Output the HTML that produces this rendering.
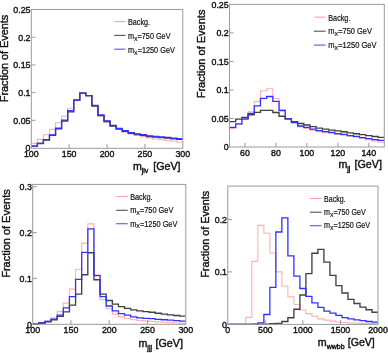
<!DOCTYPE html>
<html><head><meta charset="utf-8"><title>Histograms</title><style>
html,body{margin:0;padding:0;background:#fff;}
body{width:388px;height:353px;overflow:hidden;}
svg{display:block;will-change:transform;}
text{font-family:"Liberation Sans",sans-serif;fill:#111;stroke:#111;stroke-width:0.4px;}
.tk{font-size:9.40px;}
.lg{font-size:8.60px;stroke-width:0.2px;}
.ls{font-size:6.19px;}
.yt{font-size:11.00px;}
.xt{font-size:10.60px;}
.xs{font-size:7.00px;}
</style></head>
<body><svg width="388" height="353" viewBox="0 0 388 353">
<rect width="388" height="353" fill="#fff"/>
<g><clipPath id="cp1"><rect x="31.30" y="7.50" width="151.50" height="141.80"/></clipPath><g clip-path="url(#cp1)" fill="none" stroke-linejoin="miter"><path d="M31.30 143.41 L37.36 143.41 L37.36 139.42 L43.42 139.42 L43.42 134.71 L49.48 134.71 L49.48 129.18 L55.54 129.18 L55.54 122.81 L61.60 122.81 L61.60 116.22 L67.66 116.22 L67.66 108.25 L73.72 108.25 L73.72 99.28 L79.78 99.28 L79.78 92.64 L85.84 92.64 L85.84 95.96 L91.90 95.96 L91.90 105.93 L97.96 105.93 L97.96 115.89 L104.02 115.89 L104.02 122.20 L110.08 122.20 L110.08 126.41 L116.14 126.41 L116.14 129.40 L122.20 129.40 L122.20 132.22 L128.26 132.22 L128.26 134.05 L134.32 134.05 L134.32 135.27 L140.38 135.27 L140.38 136.65 L146.44 136.65 L146.44 138.04 L152.50 138.04 L152.50 139.03 L158.56 139.03 L158.56 139.70 L164.62 139.70 L164.62 140.53 L170.68 140.53 L170.68 141.30 L176.74 141.30 L176.74 142.19 L182.80 142.19" stroke="#ffb0b0" stroke-width="1.1"/><path d="M31.30 146.17 L37.36 146.17 L37.36 143.54 L43.42 143.54 L43.42 139.95 L49.48 139.95 L49.48 135.33 L55.54 135.33 L55.54 128.83 L61.60 128.83 L61.60 120.99 L67.66 120.99 L67.66 111.86 L73.72 111.86 L73.72 100.11 L79.78 100.11 L79.78 93.19 L85.84 93.19 L85.84 95.63 L91.90 95.63 L91.90 106.04 L97.96 106.04 L97.96 115.61 L104.02 115.61 L104.02 121.54 L110.08 121.54 L110.08 125.97 L116.14 125.97 L116.14 129.07 L122.20 129.07 L122.20 131.39 L128.26 131.39 L128.26 133.27 L134.32 133.27 L134.32 134.49 L140.38 134.49 L140.38 135.38 L146.44 135.38 L146.44 136.49 L152.50 136.49 L152.50 137.04 L158.56 137.04 L158.56 137.59 L164.62 137.59 L164.62 138.15 L170.68 138.15 L170.68 138.70 L176.74 138.70 L176.74 139.36 L182.80 139.36" stroke="#404040" stroke-width="1.35"/><path d="M31.30 146.12 L37.36 146.12 L37.36 143.41 L43.42 143.41 L43.42 139.70 L49.48 139.70 L49.48 134.94 L55.54 134.94 L55.54 128.24 L61.60 128.24 L61.60 120.15 L67.66 120.15 L67.66 110.74 L73.72 110.74 L73.72 100.11 L79.78 100.11 L79.78 93.19 L85.84 93.19 L85.84 95.63 L91.90 95.63 L91.90 105.37 L97.96 105.37 L97.96 114.95 L104.02 114.95 L104.02 120.87 L110.08 120.87 L110.08 125.30 L116.14 125.30 L116.14 128.40 L122.20 128.40 L122.20 130.73 L128.26 130.73 L128.26 132.61 L134.32 132.61 L134.32 133.83 L140.38 133.83 L140.38 134.71 L146.44 134.71 L146.44 135.82 L152.50 135.82 L152.50 136.37 L158.56 136.37 L158.56 136.93 L164.62 136.93 L164.62 137.48 L170.68 137.48 L170.68 138.04 L176.74 138.04 L176.74 138.70 L182.80 138.70" stroke="#3030ff" stroke-width="1.3"/></g><rect x="31.30" y="9.50" width="151.50" height="138.80" fill="none" stroke="#9a9a9a" stroke-width="1"/><text x="31.30" y="157.10" text-anchor="middle" class="tk" textLength="14.74" lengthAdjust="spacingAndGlyphs">100</text><line x1="69.17" y1="148.30" x2="69.17" y2="144.10" stroke="#9a9a9a" stroke-width="1"/><text x="69.17" y="157.10" text-anchor="middle" class="tk" textLength="14.74" lengthAdjust="spacingAndGlyphs">150</text><line x1="107.05" y1="148.30" x2="107.05" y2="144.10" stroke="#9a9a9a" stroke-width="1"/><text x="107.05" y="157.10" text-anchor="middle" class="tk" textLength="14.74" lengthAdjust="spacingAndGlyphs">200</text><line x1="144.93" y1="148.30" x2="144.93" y2="144.10" stroke="#9a9a9a" stroke-width="1"/><text x="144.93" y="157.10" text-anchor="middle" class="tk" textLength="14.74" lengthAdjust="spacingAndGlyphs">250</text><text x="182.80" y="157.10" text-anchor="middle" class="tk" textLength="14.74" lengthAdjust="spacingAndGlyphs">300</text><text x="30.50" y="151.40" text-anchor="end" class="tk" textLength="4.91" lengthAdjust="spacingAndGlyphs">0</text><line x1="31.30" y1="120.32" x2="35.50" y2="120.32" stroke="#9a9a9a" stroke-width="1"/><text x="30.50" y="123.72" text-anchor="end" class="tk" textLength="17.19" lengthAdjust="spacingAndGlyphs">0.05</text><line x1="31.30" y1="92.64" x2="35.50" y2="92.64" stroke="#9a9a9a" stroke-width="1"/><text x="30.50" y="96.04" text-anchor="end" class="tk" textLength="12.28" lengthAdjust="spacingAndGlyphs">0.1</text><line x1="31.30" y1="64.96" x2="35.50" y2="64.96" stroke="#9a9a9a" stroke-width="1"/><text x="30.50" y="68.36" text-anchor="end" class="tk" textLength="17.19" lengthAdjust="spacingAndGlyphs">0.15</text><line x1="31.30" y1="37.28" x2="35.50" y2="37.28" stroke="#9a9a9a" stroke-width="1"/><text x="30.50" y="40.68" text-anchor="end" class="tk" textLength="12.28" lengthAdjust="spacingAndGlyphs">0.2</text><text x="30.50" y="13.00" text-anchor="end" class="tk" textLength="17.19" lengthAdjust="spacingAndGlyphs">0.25</text><line x1="114.20" y1="21.70" x2="125.50" y2="21.70" stroke="#ff8c8c" stroke-width="0.90"/><line x1="114.20" y1="35.40" x2="125.50" y2="35.40" stroke="#505050" stroke-width="1.10"/><line x1="114.20" y1="49.20" x2="125.50" y2="49.20" stroke="#6464ff" stroke-width="1.20"/><text x="128.00" y="25.40" class="lg" textLength="22.00" lengthAdjust="spacingAndGlyphs">Backg.</text><text x="128.00" y="38.90" class="lg" textLength="42.50" lengthAdjust="spacingAndGlyphs">m<tspan class="ls" dy="1.8">X</tspan><tspan dy="-1.8">=750 GeV</tspan></text><text x="128.00" y="52.70" class="lg" textLength="46.90" lengthAdjust="spacingAndGlyphs">m<tspan class="ls" dy="1.8">X</tspan><tspan dy="-1.8">=1250 GeV</tspan></text><text transform="translate(8.20 102.20) rotate(-90)" class="yt" textLength="87.50" lengthAdjust="spacingAndGlyphs">Fraction of Events</text><text x="132.90" y="170.20" class="xt">m<tspan class="xs" dy="3.0">jlv</tspan></text><text x="153.20" y="170.20" class="xt" textLength="27.40" lengthAdjust="spacingAndGlyphs">[GeV]</text></g>
<g><clipPath id="cp2"><rect x="229.50" y="2.40" width="154.80" height="145.60"/></clipPath><g clip-path="url(#cp2)" fill="none" stroke-linejoin="miter"><path d="M229.50 128.40 L235.69 128.40 L235.69 124.53 L241.88 124.53 L241.88 118.48 L248.08 118.48 L248.08 111.75 L254.27 111.75 L254.27 101.37 L260.46 101.37 L260.46 90.82 L266.65 90.82 L266.65 88.71 L272.84 88.71 L272.84 98.52 L279.04 98.52 L279.04 109.92 L285.23 109.92 L285.23 119.28 L291.42 119.28 L291.42 123.50 L297.61 123.50 L297.61 126.92 L303.80 126.92 L303.80 128.40 L310.00 128.40 L310.00 130.12 L316.19 130.12 L316.19 131.60 L322.38 131.60 L322.38 132.63 L328.57 132.63 L328.57 133.42 L334.76 133.42 L334.76 134.45 L340.96 134.45 L340.96 135.31 L347.15 135.31 L347.15 136.28 L353.34 136.28 L353.34 137.19 L359.53 137.19 L359.53 138.44 L365.72 138.44 L365.72 139.70 L371.92 139.70 L371.92 140.90 L378.11 140.90 L378.11 142.21 L384.30 142.21" stroke="#ffb0b0" stroke-width="1.1"/><path d="M229.50 121.62 L235.69 121.62 L235.69 119.11 L241.88 119.11 L241.88 117.51 L248.08 117.51 L248.08 114.72 L254.27 114.72 L254.27 112.38 L260.46 112.38 L260.46 110.32 L266.65 110.32 L266.65 110.32 L272.84 110.32 L272.84 112.49 L279.04 112.49 L279.04 116.20 L285.23 116.20 L285.23 118.88 L291.42 118.88 L291.42 121.62 L297.61 121.62 L297.61 123.50 L303.80 123.50 L303.80 124.98 L310.00 124.98 L310.00 126.58 L316.19 126.58 L316.19 128.18 L322.38 128.18 L322.38 129.09 L328.57 129.09 L328.57 130.12 L334.76 130.12 L334.76 130.86 L340.96 130.86 L340.96 131.77 L347.15 131.77 L347.15 132.80 L353.34 132.80 L353.34 133.71 L359.53 133.71 L359.53 134.68 L365.72 134.68 L365.72 135.59 L371.92 135.59 L371.92 136.50 L378.11 136.50 L378.11 137.42 L384.30 137.42" stroke="#404040" stroke-width="1.35"/><path d="M229.50 127.38 L235.69 127.38 L235.69 123.78 L241.88 123.78 L241.88 119.11 L248.08 119.11 L248.08 113.52 L254.27 113.52 L254.27 105.82 L260.46 105.82 L260.46 98.40 L266.65 98.40 L266.65 96.52 L272.84 96.52 L272.84 101.37 L279.04 101.37 L279.04 110.49 L285.23 110.49 L285.23 118.88 L291.42 118.88 L291.42 122.30 L297.61 122.30 L297.61 126.01 L303.80 126.01 L303.80 127.44 L310.00 127.44 L310.00 129.09 L316.19 129.09 L316.19 130.57 L322.38 130.57 L322.38 131.60 L328.57 131.60 L328.57 132.40 L334.76 132.40 L334.76 133.60 L340.96 133.60 L340.96 134.45 L347.15 134.45 L347.15 135.59 L353.34 135.59 L353.34 136.28 L359.53 136.28 L359.53 137.53 L365.72 137.53 L365.72 138.67 L371.92 138.67 L371.92 139.70 L378.11 139.70 L378.11 140.33 L384.30 140.33" stroke="#3030ff" stroke-width="1.3"/></g><rect x="229.50" y="4.40" width="154.80" height="142.60" fill="none" stroke="#9a9a9a" stroke-width="1"/><line x1="244.98" y1="147.00" x2="244.98" y2="142.80" stroke="#9a9a9a" stroke-width="1"/><text x="244.98" y="155.90" text-anchor="middle" class="tk" textLength="9.83" lengthAdjust="spacingAndGlyphs">60</text><line x1="275.94" y1="147.00" x2="275.94" y2="142.80" stroke="#9a9a9a" stroke-width="1"/><text x="275.94" y="155.90" text-anchor="middle" class="tk" textLength="9.83" lengthAdjust="spacingAndGlyphs">80</text><line x1="306.90" y1="147.00" x2="306.90" y2="142.80" stroke="#9a9a9a" stroke-width="1"/><text x="306.90" y="155.90" text-anchor="middle" class="tk" textLength="14.74" lengthAdjust="spacingAndGlyphs">100</text><line x1="337.86" y1="147.00" x2="337.86" y2="142.80" stroke="#9a9a9a" stroke-width="1"/><text x="337.86" y="155.90" text-anchor="middle" class="tk" textLength="14.74" lengthAdjust="spacingAndGlyphs">120</text><line x1="368.82" y1="147.00" x2="368.82" y2="142.80" stroke="#9a9a9a" stroke-width="1"/><text x="368.82" y="155.90" text-anchor="middle" class="tk" textLength="14.74" lengthAdjust="spacingAndGlyphs">140</text><text x="228.70" y="150.40" text-anchor="end" class="tk" textLength="4.91" lengthAdjust="spacingAndGlyphs">0</text><line x1="229.50" y1="118.48" x2="233.70" y2="118.48" stroke="#9a9a9a" stroke-width="1"/><text x="228.70" y="121.88" text-anchor="end" class="tk" textLength="17.19" lengthAdjust="spacingAndGlyphs">0.05</text><line x1="229.50" y1="89.96" x2="233.70" y2="89.96" stroke="#9a9a9a" stroke-width="1"/><text x="228.70" y="93.36" text-anchor="end" class="tk" textLength="12.28" lengthAdjust="spacingAndGlyphs">0.1</text><line x1="229.50" y1="61.44" x2="233.70" y2="61.44" stroke="#9a9a9a" stroke-width="1"/><text x="228.70" y="64.84" text-anchor="end" class="tk" textLength="17.19" lengthAdjust="spacingAndGlyphs">0.15</text><line x1="229.50" y1="32.92" x2="233.70" y2="32.92" stroke="#9a9a9a" stroke-width="1"/><text x="228.70" y="36.32" text-anchor="end" class="tk" textLength="12.28" lengthAdjust="spacingAndGlyphs">0.2</text><text x="228.70" y="7.80" text-anchor="end" class="tk" textLength="17.19" lengthAdjust="spacingAndGlyphs">0.25</text><line x1="314.00" y1="17.10" x2="325.60" y2="17.10" stroke="#ff8c8c" stroke-width="0.90"/><line x1="314.00" y1="31.20" x2="325.60" y2="31.20" stroke="#505050" stroke-width="1.10"/><line x1="314.00" y1="45.10" x2="325.60" y2="45.10" stroke="#6464ff" stroke-width="1.20"/><text x="328.30" y="20.60" class="lg" textLength="22.10" lengthAdjust="spacingAndGlyphs">Backg.</text><text x="328.30" y="34.30" class="lg" textLength="43.70" lengthAdjust="spacingAndGlyphs">m<tspan class="ls" dy="1.8">X</tspan><tspan dy="-1.8">=750 GeV</tspan></text><text x="328.30" y="48.00" class="lg" textLength="48.30" lengthAdjust="spacingAndGlyphs">m<tspan class="ls" dy="1.8">X</tspan><tspan dy="-1.8">=1250 GeV</tspan></text><text transform="translate(205.30 98.30) rotate(-90)" class="yt" textLength="88.70" lengthAdjust="spacingAndGlyphs">Fraction of Events</text><text x="338.40" y="168.00" class="xt">m<tspan class="xs" dy="3.0">jj</tspan></text><text x="354.40" y="168.00" class="xt" textLength="27.50" lengthAdjust="spacingAndGlyphs">[GeV]</text></g>
<g><clipPath id="cp3"><rect x="32.70" y="182.40" width="153.10" height="142.90"/></clipPath><g clip-path="url(#cp3)" fill="none" stroke-linejoin="miter"><path d="M32.70 323.74 L38.82 323.74 L38.82 322.37 L44.95 322.37 L44.95 320.76 L51.07 320.76 L51.07 317.79 L57.20 317.79 L57.20 311.65 L63.32 311.65 L63.32 303.13 L69.44 303.13 L69.44 289.16 L75.57 289.16 L75.57 269.24 L81.69 269.24 L81.69 243.13 L87.82 243.13 L87.82 223.90 L93.94 223.90 L93.94 276.11 L100.06 276.11 L100.06 299.47 L106.19 299.47 L106.19 308.81 L112.31 308.81 L112.31 314.12 L118.44 314.12 L118.44 316.87 L124.56 316.87 L124.56 318.47 L130.68 318.47 L130.68 319.76 L136.81 319.76 L136.81 320.54 L142.93 320.54 L142.93 320.90 L149.06 320.90 L149.06 321.45 L155.18 321.45 L155.18 321.91 L161.30 321.91 L161.30 322.28 L167.43 322.28 L167.43 322.64 L173.55 322.64 L173.55 323.01 L179.68 323.01 L179.68 323.38 L185.80 323.38" stroke="#ffb0b0" stroke-width="1.1"/><path d="M32.70 324.20 L38.82 324.20 L38.82 323.28 L44.95 323.28 L44.95 321.91 L51.07 321.91 L51.07 319.76 L57.20 319.76 L57.20 316.41 L63.32 316.41 L63.32 311.83 L69.44 311.83 L69.44 305.10 L75.57 305.10 L75.57 294.16 L81.69 294.16 L81.69 274.74 L87.82 274.74 L87.82 252.75 L93.94 252.75 L93.94 279.77 L100.06 279.77 L100.06 294.16 L106.19 294.16 L106.19 300.48 L112.31 300.48 L112.31 304.05 L118.44 304.05 L118.44 306.61 L124.56 306.61 L124.56 308.31 L130.68 308.31 L130.68 309.91 L136.81 309.91 L136.81 310.92 L142.93 310.92 L142.93 311.60 L149.06 311.60 L149.06 312.29 L155.18 312.29 L155.18 313.21 L161.30 313.21 L161.30 314.12 L167.43 314.12 L167.43 314.86 L173.55 314.86 L173.55 315.50 L179.68 315.50 L179.68 316.19 L185.80 316.19" stroke="#404040" stroke-width="1.35"/><path d="M32.70 324.20 L38.82 324.20 L38.82 323.01 L44.95 323.01 L44.95 321.45 L51.07 321.45 L51.07 319.07 L57.20 319.07 L57.20 315.18 L63.32 315.18 L63.32 307.94 L69.44 307.94 L69.44 296.72 L75.57 296.72 L75.57 279.41 L81.69 279.41 L81.69 252.29 L87.82 252.29 L87.82 228.80 L93.94 228.80 L93.94 275.38 L100.06 275.38 L100.06 296.72 L106.19 296.72 L106.19 306.02 L112.31 306.02 L112.31 310.92 L118.44 310.92 L118.44 313.57 L124.56 313.57 L124.56 315.18 L130.68 315.18 L130.68 316.78 L136.81 316.78 L136.81 317.79 L142.93 317.79 L142.93 318.34 L149.06 318.34 L149.06 318.70 L155.18 318.70 L155.18 319.35 L161.30 319.35 L161.30 319.76 L167.43 319.76 L167.43 320.17 L173.55 320.17 L173.55 320.67 L179.68 320.67 L179.68 321.18 L185.80 321.18" stroke="#3030ff" stroke-width="1.3"/></g><rect x="32.70" y="184.40" width="153.10" height="139.90" fill="none" stroke="#9a9a9a" stroke-width="1"/><text x="32.70" y="333.20" text-anchor="middle" class="tk" textLength="14.74" lengthAdjust="spacingAndGlyphs">100</text><line x1="70.98" y1="324.30" x2="70.98" y2="320.10" stroke="#9a9a9a" stroke-width="1"/><text x="70.98" y="333.20" text-anchor="middle" class="tk" textLength="14.74" lengthAdjust="spacingAndGlyphs">150</text><line x1="109.25" y1="324.30" x2="109.25" y2="320.10" stroke="#9a9a9a" stroke-width="1"/><text x="109.25" y="333.20" text-anchor="middle" class="tk" textLength="14.74" lengthAdjust="spacingAndGlyphs">200</text><line x1="147.53" y1="324.30" x2="147.53" y2="320.10" stroke="#9a9a9a" stroke-width="1"/><text x="147.53" y="333.20" text-anchor="middle" class="tk" textLength="14.74" lengthAdjust="spacingAndGlyphs">250</text><text x="185.80" y="333.20" text-anchor="middle" class="tk" textLength="14.74" lengthAdjust="spacingAndGlyphs">300</text><text x="31.90" y="327.60" text-anchor="end" class="tk" textLength="4.91" lengthAdjust="spacingAndGlyphs">0</text><line x1="32.70" y1="278.40" x2="36.90" y2="278.40" stroke="#9a9a9a" stroke-width="1"/><text x="31.90" y="281.80" text-anchor="end" class="tk" textLength="12.28" lengthAdjust="spacingAndGlyphs">0.1</text><line x1="32.70" y1="232.60" x2="36.90" y2="232.60" stroke="#9a9a9a" stroke-width="1"/><text x="31.90" y="236.00" text-anchor="end" class="tk" textLength="12.28" lengthAdjust="spacingAndGlyphs">0.2</text><line x1="32.70" y1="186.80" x2="36.90" y2="186.80" stroke="#9a9a9a" stroke-width="1"/><text x="31.90" y="190.20" text-anchor="end" class="tk" textLength="12.28" lengthAdjust="spacingAndGlyphs">0.3</text><line x1="116.20" y1="196.60" x2="127.70" y2="196.60" stroke="#ff8c8c" stroke-width="0.90"/><line x1="116.20" y1="210.30" x2="127.70" y2="210.30" stroke="#505050" stroke-width="1.10"/><line x1="116.20" y1="223.70" x2="127.70" y2="223.70" stroke="#6464ff" stroke-width="1.20"/><text x="130.20" y="199.70" class="lg" textLength="22.30" lengthAdjust="spacingAndGlyphs">Backg.</text><text x="130.20" y="213.20" class="lg" textLength="43.20" lengthAdjust="spacingAndGlyphs">m<tspan class="ls" dy="1.8">X</tspan><tspan dy="-1.8">=750 GeV</tspan></text><text x="130.20" y="226.50" class="lg" textLength="47.20" lengthAdjust="spacingAndGlyphs">m<tspan class="ls" dy="1.8">X</tspan><tspan dy="-1.8">=1250 GeV</tspan></text><text transform="translate(10.20 277.80) rotate(-90)" class="yt" textLength="88.50" lengthAdjust="spacingAndGlyphs">Fraction of Events</text><text x="138.50" y="347.00" class="xt">m<tspan class="xs" dy="3.0">jjj</tspan></text><text x="155.50" y="347.00" class="xt" textLength="27.50" lengthAdjust="spacingAndGlyphs">[GeV]</text></g>
<g><clipPath id="cp4"><rect x="227.80" y="184.10" width="150.20" height="141.30"/></clipPath><g clip-path="url(#cp4)" fill="none" stroke-linejoin="miter"><path d="M227.80 324.40 L233.81 324.40 L233.81 324.40 L239.82 324.40 L239.82 324.40 L245.82 324.40 L245.82 317.42 L251.83 317.42 L251.83 261.40 L257.84 261.40 L257.84 225.38 L263.85 225.38 L263.85 233.21 L269.86 233.21 L269.86 252.95 L275.86 252.95 L275.86 271.90 L281.87 271.90 L281.87 286.18 L287.88 286.18 L287.88 296.89 L293.89 296.89 L293.89 304.45 L299.90 304.45 L299.90 310.01 L305.90 310.01 L305.90 313.58 L311.91 313.58 L311.91 316.21 L317.92 316.21 L317.92 318.89 L323.93 318.89 L323.93 320.09 L329.94 320.09 L329.94 321.09 L335.94 321.09 L335.94 322.04 L341.95 322.04 L341.95 322.56 L347.96 322.56 L347.96 322.93 L353.97 322.93 L353.97 323.19 L359.98 323.19 L359.98 323.35 L365.98 323.35 L365.98 323.45 L371.99 323.45 L371.99 323.56 L378.00 323.56" stroke="#ffb0b0" stroke-width="1.1"/><path d="M227.80 324.40 L233.81 324.40 L233.81 324.40 L239.82 324.40 L239.82 324.40 L245.82 324.40 L245.82 324.40 L251.83 324.40 L251.83 324.40 L257.84 324.40 L257.84 324.40 L263.85 324.40 L263.85 324.24 L269.86 324.24 L269.86 323.72 L275.86 323.72 L275.86 323.35 L281.87 323.35 L281.87 321.51 L287.88 321.51 L287.88 317.78 L293.89 317.78 L293.89 309.28 L299.90 309.28 L299.90 295.00 L305.90 295.00 L305.90 273.68 L311.91 273.68 L311.91 253.21 L317.92 253.21 L317.92 249.38 L323.93 249.38 L323.93 262.19 L329.94 262.19 L329.94 275.31 L335.94 275.31 L335.94 285.55 L341.95 285.55 L341.95 293.00 L347.96 293.00 L347.96 299.30 L353.97 299.30 L353.97 303.50 L359.98 303.50 L359.98 307.07 L365.98 307.07 L365.98 309.70 L371.99 309.70 L371.99 312.22 L378.00 312.22" stroke="#404040" stroke-width="1.35"/><path d="M227.80 324.40 L233.81 324.40 L233.81 324.40 L239.82 324.40 L239.82 324.40 L245.82 324.40 L245.82 324.40 L251.83 324.40 L251.83 324.08 L257.84 324.08 L257.84 322.82 L263.85 322.82 L263.85 314.48 L269.86 314.48 L269.86 287.39 L275.86 287.39 L275.86 232.00 L281.87 232.00 L281.87 217.88 L287.88 217.88 L287.88 255.89 L293.89 255.89 L293.89 276.20 L299.90 276.20 L299.90 288.49 L305.90 288.49 L305.90 296.31 L311.91 296.31 L311.91 302.82 L317.92 302.82 L317.92 307.39 L323.93 307.39 L323.93 311.17 L329.94 311.17 L329.94 313.22 L335.94 313.22 L335.94 315.47 L341.95 315.47 L341.95 317.57 L347.96 317.57 L347.96 318.89 L353.97 318.89 L353.97 319.78 L359.98 319.78 L359.98 320.72 L365.98 320.72 L365.98 321.51 L371.99 321.51 L371.99 322.19 L378.00 322.19" stroke="#3030ff" stroke-width="1.3"/></g><rect x="227.80" y="186.10" width="150.20" height="138.30" fill="none" stroke="#9a9a9a" stroke-width="1"/><text x="227.80" y="333.20" text-anchor="middle" class="tk" textLength="4.91" lengthAdjust="spacingAndGlyphs">0</text><line x1="265.35" y1="324.40" x2="265.35" y2="320.20" stroke="#9a9a9a" stroke-width="1"/><text x="265.35" y="333.20" text-anchor="middle" class="tk" textLength="14.74" lengthAdjust="spacingAndGlyphs">500</text><line x1="302.90" y1="324.40" x2="302.90" y2="320.20" stroke="#9a9a9a" stroke-width="1"/><text x="302.90" y="333.20" text-anchor="middle" class="tk" textLength="19.65" lengthAdjust="spacingAndGlyphs">1000</text><line x1="340.45" y1="324.40" x2="340.45" y2="320.20" stroke="#9a9a9a" stroke-width="1"/><text x="340.45" y="333.20" text-anchor="middle" class="tk" textLength="19.65" lengthAdjust="spacingAndGlyphs">1500</text><text x="378.00" y="333.20" text-anchor="middle" class="tk" textLength="19.65" lengthAdjust="spacingAndGlyphs">2000</text><text x="227.00" y="327.80" text-anchor="end" class="tk" textLength="4.91" lengthAdjust="spacingAndGlyphs">0</text><line x1="227.80" y1="271.90" x2="232.00" y2="271.90" stroke="#9a9a9a" stroke-width="1"/><text x="227.00" y="275.30" text-anchor="end" class="tk" textLength="12.28" lengthAdjust="spacingAndGlyphs">0.1</text><line x1="227.80" y1="219.40" x2="232.00" y2="219.40" stroke="#9a9a9a" stroke-width="1"/><text x="227.00" y="222.80" text-anchor="end" class="tk" textLength="12.28" lengthAdjust="spacingAndGlyphs">0.2</text><line x1="310.00" y1="198.50" x2="321.60" y2="198.50" stroke="#ff8c8c" stroke-width="0.90"/><line x1="310.00" y1="212.20" x2="321.60" y2="212.20" stroke="#505050" stroke-width="1.10"/><line x1="310.00" y1="225.70" x2="321.60" y2="225.70" stroke="#6464ff" stroke-width="1.20"/><text x="324.10" y="201.60" class="lg" textLength="21.40" lengthAdjust="spacingAndGlyphs">Backg.</text><text x="324.10" y="214.90" class="lg" textLength="41.60" lengthAdjust="spacingAndGlyphs">m<tspan class="ls" dy="1.8">X</tspan><tspan dy="-1.8">=750 GeV</tspan></text><text x="324.10" y="228.20" class="lg" textLength="45.90" lengthAdjust="spacingAndGlyphs">m<tspan class="ls" dy="1.8">X</tspan><tspan dy="-1.8">=1250 GeV</tspan></text><text transform="translate(209.00 277.80) rotate(-90)" class="yt" textLength="87.00" lengthAdjust="spacingAndGlyphs">Fraction of Events</text><text x="317.80" y="346.10" class="xt">m<tspan class="xs" dy="3.0">wwbb</tspan></text><text x="347.80" y="346.10" class="xt" textLength="27.00" lengthAdjust="spacingAndGlyphs">[GeV]</text></g>
</svg></body></html>
